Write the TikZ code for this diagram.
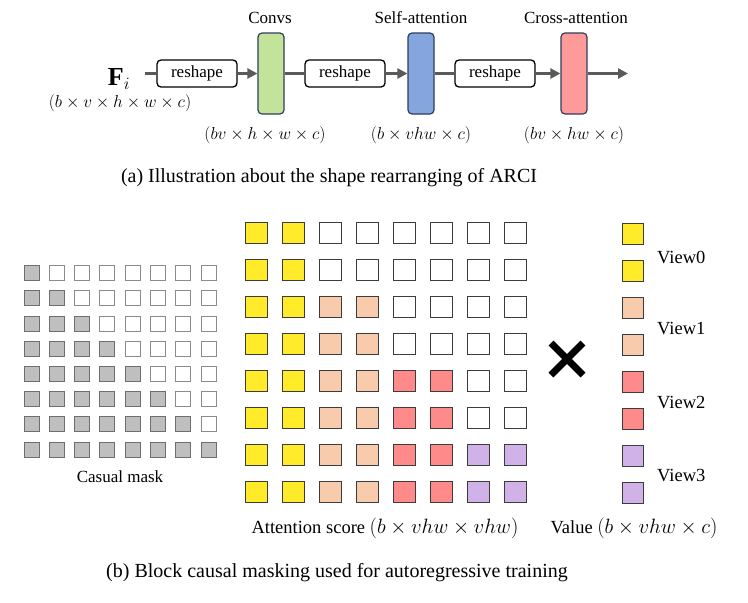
\documentclass[tikz,border=0pt]{standalone}
\usepackage{fontspec}
\setmainfont{Liberation Serif}
\usetikzlibrary{arrows.meta}
\definecolor{arrgray}{HTML}{5A5A5A}
\definecolor{convgreen}{HTML}{C3E29A}
\definecolor{sablue}{HTML}{85A5DE}
\definecolor{cared}{HTML}{FF9A9A}
\definecolor{boxedge}{HTML}{2E3F5C}
\definecolor{cyellow}{HTML}{FFEB2A}
\definecolor{cpeach}{HTML}{F8CBAD}
\definecolor{cred}{HTML}{FF8A8A}
\definecolor{cpurple}{HTML}{D0B2E8}
\definecolor{maskgray}{HTML}{BFBFBF}
\definecolor{maskedge}{HTML}{6E6E6E}
\definecolor{sqedge}{HTML}{3C3C3C}
\begin{document}
\begin{tikzpicture}[x=1pt,y=-1pt,
  reshapebox/.style={draw=black,line width=1.3pt,rounded corners=4pt,fill=white,
    minimum width=80pt,minimum height=27pt,inner sep=0pt,font=\fontsize{17}{20}\selectfont},
  layerbox/.style={draw=boxedge,line width=1.2pt,rounded corners=4pt,
    minimum width=26pt,minimum height=81pt,inner sep=0pt},
  flow/.style={draw=arrgray,line width=3pt},
  flowarr/.style={flow,-{Triangle[length=10pt,width=10pt]}},
  lbl/.style={font=\fontsize{17}{20}\selectfont,inner sep=0pt},
  shp/.style={font=\fontsize{18}{21}\selectfont,inner sep=0pt},
  captext/.style={font=\fontsize{20}{24}\selectfont,inner sep=0pt},
  bottomlbl/.style={font=\fontsize{18.5}{22}\selectfont,inner sep=0pt},
  attsq/.style={draw=sqedge,line width=1.1pt},
  masksq/.style={draw=maskedge,line width=1pt}
]
\useasboundingbox (0,0) rectangle (748,603);
\fill[white] (0,0) rectangle (748,603);

% ---------- (a) ----------
\coordinate (start) at (145,73.5);
\coordinate (out) at (628,73.5);
\node[reshapebox] (r1) at (197,73.5) {reshape};
\node[layerbox,fill=convgreen] (conv) at (271,73.5) {};
\node[reshapebox] (r2) at (345,73.5) {reshape};
\node[layerbox,fill=sablue] (sa) at (421,73.5) {};
\node[reshapebox] (r3) at (495,73.5) {reshape};
\node[layerbox,fill=cared] (ca) at (574,73.5) {};

\draw[flow] (start) -- (r1.west);
\draw[flowarr] (r1.east) -- (conv.west);
\draw[flow] (conv.east) -- (r2.west);
\draw[flowarr] (r2.east) -- (sa.west);
\draw[flow] (sa.east) -- (r3.west);
\draw[flowarr] (r3.east) -- (ca.west);
\draw[flowarr] (ca.east) -- (out);

\node[inner sep=0pt,font=\fontsize{26}{30}\selectfont] (fi) at (119,79) {$\mathbf{F}_i$};
\node[shp] (fishape) at (120,103) {$(b\times v\times h\times w\times c)$};

\node[lbl] (convlbl) at (270,18) {Convs};
\node[lbl] (salbl) at (421,18) {Self-attention};
\node[lbl] (calbl) at (576,18) {Cross-attention};

\node[shp] (convshape) at (265,135) {$(bv\times h\times w\times c)$};
\node[shp] (sashape) at (421,135) {$(b\times vhw\times c)$};
\node[shp] (cashape) at (574,135) {$(bv\times hw\times c)$};

\node[captext] (capa) at (329,178) {(a) Illustration about the shape rearranging of ARCI};

% ---------- (b) ----------
% causal mask
\foreach \r in {0,...,7}{
  \foreach \c in {0,...,7}{
    \pgfmathsetmacro{\xx}{24+25.3*\c}
    \pgfmathsetmacro{\yy}{265.7+25.2*\r}
    \ifnum\c>\r
      \draw[masksq,draw=maskedge!80,fill=white] (\xx,\yy) rectangle ++(15,15);
    \else
      \draw[masksq,fill=maskgray] (\xx,\yy) rectangle ++(15,15);
    \fi
  }
}
\node[font=\fontsize{17}{20}\selectfont,inner sep=0pt] (masklbl) at (120,477) {Casual mask};

% attention score
\foreach \r in {0,...,7}{
  \foreach \c in {0,...,7}{
    \pgfmathsetmacro{\xx}{256.5+37*\c}
    \pgfmathsetmacro{\yy}{233+37*\r}
    \pgfmathtruncatemacro{\br}{int(\r/2)}
    \pgfmathtruncatemacro{\bc}{int(\c/2)}
    \ifnum\bc>\br
      \def\fc{white}
    \else
      \ifcase\bc \def\fc{cyellow}\or \def\fc{cpeach}\or \def\fc{cred}\or \def\fc{cpurple}\fi
    \fi
    \draw[attsq,fill=\fc] (\xx-10.8,\yy-10.8) rectangle (\xx+10.8,\yy+10.8);
  }
}
\node[bottomlbl] (attlbl) at (385,528) {Attention score {\fontsize{21}{24}\selectfont$(b\times vhw\times vhw)$}};

% multiply sign
\coordinate (xc) at (567,359);
\draw[line width=7pt,black] ([shift={(-16,-16)}]xc) -- ([shift={(16,16)}]xc);
\draw[line width=7pt,black] ([shift={(-16,16)}]xc) -- ([shift={(16,-16)}]xc);

% value column
\foreach \r in {0,...,7}{
  \pgfmathsetmacro{\yy}{234+37*\r}
  \pgfmathtruncatemacro{\br}{int(\r/2)}
  \ifcase\br \def\fc{cyellow}\or \def\fc{cpeach}\or \def\fc{cred}\or \def\fc{cpurple}\fi
  \draw[attsq,line width=1pt,fill=\fc] (622,\yy-10.5) rectangle (643,\yy+10.5);
}
\node[bottomlbl,anchor=west] (v0) at (657,257) {View0};
\node[bottomlbl,anchor=west] (v1) at (657,329) {View1};
\node[bottomlbl,anchor=west] (v2) at (657,403) {View2};
\node[bottomlbl,anchor=west] (v3) at (657,476) {View3};
\node[bottomlbl] (vallbl) at (634,528) {Value {\fontsize{21}{24}\selectfont$(b\times vhw\times c)$}};

\node[captext] (capb) at (337,573) {(b) Block causal masking used for autoregressive training};
\end{tikzpicture}
\end{document}
